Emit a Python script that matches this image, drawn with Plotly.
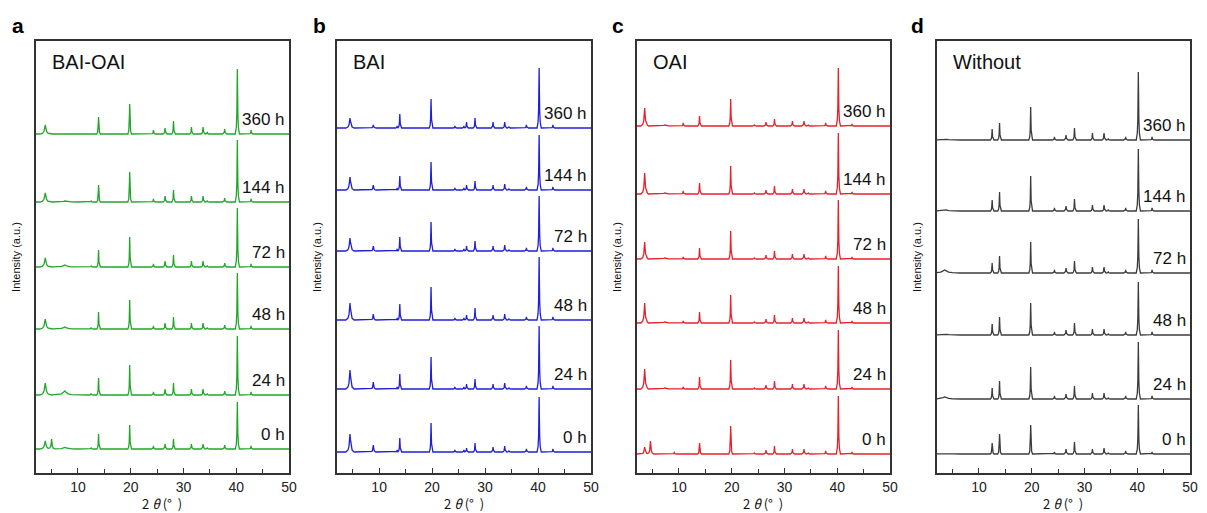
import numpy as np
import plotly.graph_objects as go

# ---------------- data ----------------
TIMES = ["0 h", "24 h", "48 h", "72 h", "144 h", "360 h"]
X_RANGE = [2, 50]

# Panel a: BAI-OAI
A_POS = [3.8, 5.0, 7.5, 12.5, 13.9, 19.8, 24.3, 26.5, 28.1, 31.5, 33.7, 34.5, 37.8, 40.2, 42.8]
A_HW = [1.0, 0.6, 2.5, 0.35, 0.35, 0.35, 0.35, 0.4, 0.35, 0.35, 0.4, 0.35, 0.4, 0.4, 0.35]
A_H = [
    [8, 10, 1.5, 1.5, 15, 24, 3, 5, 10, 5, 5, 1.5, 4, 47, 3],
    [12, 0, 4, 1.5, 17, 30, 3, 6, 12, 6, 6, 1.5, 4, 59, 3],
    [10, 0, 2, 1.5, 17, 29, 3, 6, 12, 6, 6, 1.5, 4, 56, 3],
    [9, 0, 2, 1, 17, 30, 3, 6, 12, 6, 6, 1.5, 4, 59, 3],
    [9, 0, 1, 1, 17, 30, 3, 6, 12, 6, 6, 1.5, 4, 62, 3],
    [9, 0, 0.5, 0, 17, 30, 4, 6, 13, 7, 7, 2, 5, 65, 4],
]
A_OFFSET = [24, 78, 144, 206, 271, 339]

# Panel b: BAI
B_POS = [4.5, 8.9, 13.4, 13.9, 19.8, 24.3, 26.0, 26.5, 28.1, 31.5, 33.7, 34.5, 37.8, 40.2, 42.8]
B_HW = [0.8, 0.5, 0.3, 0.35, 0.35, 0.35, 0.3, 0.35, 0.35, 0.35, 0.4, 0.35, 0.4, 0.4, 0.35]
B_H = [
    [18, 7, 2, 14, 29, 2, 2, 4, 9, 5, 6, 1.5, 3, 55, 3],
    [19, 7, 2, 15, 32, 2, 2, 5, 10, 5, 6, 1.5, 3, 63, 3],
    [17, 6, 2, 16, 33, 2, 2, 5, 12, 5, 6, 1.5, 3, 63, 3],
    [13, 5, 2, 14, 29, 2, 2, 5, 10, 5, 6, 1.5, 3, 55, 3],
    [13, 5, 2, 14, 28, 2, 2, 5, 9, 5, 6, 1.5, 3, 55, 3],
    [10, 3, 2, 14, 29, 2, 2, 6, 10, 6, 6, 1, 3, 60, 3],
]
B_OFFSET = [21, 84, 153, 222, 283, 345]

# Panel c: OAI
C_POS = [3.5, 4.6, 7.3, 9.1, 10.8, 13.9, 19.8, 24.3, 26.5, 28.1, 31.5, 33.7, 34.5, 37.8, 40.2, 42.8]
C_HW = [0.7, 0.6, 1.5, 0.5, 0.4, 0.35, 0.35, 0.35, 0.4, 0.35, 0.35, 0.4, 0.35, 0.4, 0.4, 0.35]
C_H = [
    [7, 13, 0.5, 1.5, 0, 11, 28, 1.5, 4, 8, 5, 5, 1, 3, 58, 2],
    [20, 0, 1, 0, 2, 12, 29, 1.5, 4, 8, 5, 5, 1, 3, 59, 2],
    [20, 0, 1, 0, 2, 11, 28, 1.5, 4, 8, 5, 5, 1, 3, 57, 2],
    [17, 0, 1, 0, 2, 11, 28, 1.5, 4, 8, 5, 5, 1, 3, 59, 2],
    [21, 0, 1, 0, 3, 11, 28, 1.5, 4, 8, 5, 5, 1, 3, 61, 2],
    [18, 0, 1, 0, 3, 10, 27, 1.5, 4, 7, 5, 5, 1, 3, 58, 2],
]
C_OFFSET = [19, 84, 150, 214, 279, 347]

# Panel d: Without
D_POS = [3.5, 12.5, 13.9, 19.8, 24.3, 26.5, 28.1, 31.5, 33.7, 34.5, 37.8, 40.2, 42.8]
D_HW = [3.0, 0.35, 0.35, 0.35, 0.35, 0.4, 0.35, 0.35, 0.4, 0.35, 0.4, 0.4, 0.35]
D_H = [
    [0.5, 11, 20, 29, 2, 5, 12, 5, 6, 1.5, 3, 49, 2],
    [2, 11, 18, 32, 3, 5, 13, 6, 6, 1.5, 3, 57, 3],
    [1, 11, 18, 32, 3, 5, 12, 6, 6, 1.5, 3, 53, 3],
    [3, 10, 17, 31, 3, 5, 12, 6, 6, 1.5, 3, 54, 3],
    [1.5, 11, 19, 35, 3, 5, 12, 6, 6, 1.5, 3, 62, 3],
    [1, 11, 17, 33, 3, 5, 12, 7, 7, 1.5, 3, 68, 3],
]
D_OFFSET = [19, 74, 138, 200, 262, 333]

# peak outline: relative offsets (in half-widths) and relative heights
SHAPE_DX = np.array([-1.0, -0.5, -0.25, -0.1, 0.0, 0.1, 0.25, 0.5, 1.0])
SHAPE_FR = np.array([0.0, 0.1, 0.3, 0.7, 1.0, 0.7, 0.3, 0.1, 0.0])


def pattern(pos, hw, heights):
    xs = [X_RANGE[0], X_RANGE[1]]
    for c, w in zip(pos, hw):
        xs.extend(c + SHAPE_DX * w)
    xs = np.unique(np.clip(np.array(xs), X_RANGE[0], X_RANGE[1]))
    ys = np.zeros_like(xs)
    for c, w, h in zip(pos, hw, heights):
        if h > 0:
            ys += h * np.interp(xs, c + SHAPE_DX * w, SHAPE_FR, left=0, right=0)
    return xs, ys


# ---------------- layout ----------------
W, H = 1207, 513
FONT = "Arial, Liberation Sans, sans-serif"
PANELS = [
    dict(letter="a", title="BAI-OAI", pos=A_POS, hw=A_HW, h=A_H, off=A_OFFSET,
         color="#23A52B", l=36, r=291, lx=18),
    dict(letter="b", title="BAI", pos=B_POS, hw=B_HW, h=B_H, off=B_OFFSET,
         color="#1E1EDC", l=339, r=595, lx=322),
    dict(letter="c", title="OAI", pos=C_POS, hw=C_HW, h=C_H, off=C_OFFSET,
         color="#E8202A", l=641, r=896, lx=622),
    dict(letter="d", title="Without", pos=D_POS, hw=D_HW, h=D_H, off=D_OFFSET,
         color="#3C3C3C", l=943, r=1198, lx=924),
]
TOP, BOTTOM = 41, 473
Y_RANGE = [0, BOTTOM - TOP]
NB = "\u00a0"
X_TITLE = "2" + NB + "<i>θ</i>" + NB + "(°" + NB + NB + ")"

fig = go.Figure()
annotations = []
layout_axes = {}

for i, p in enumerate(PANELS):
    n = "" if i == 0 else str(i + 1)
    xa, ya = "x" + n, "y" + n
    for t, heights, off in zip(TIMES, p["h"], p["off"]):
        xs, ys = pattern(p["pos"], p["hw"], heights)
        fig.add_trace(go.Scatter(x=xs, y=ys + off, mode="lines",
                                 line=dict(color=p["color"], width=1.3),
                                 xaxis=xa, yaxis=ya, showlegend=False,
                                 hoverinfo="skip"))
        annotations.append(dict(x=49.7, y=off + 15, xref=xa, yref=ya, text=t,
                                showarrow=False, xanchor="right", yanchor="middle",
                                font=dict(size=17, color="#111", family=FONT)))
    layout_axes["xaxis" + n] = dict(
        domain=[p["l"] / W, p["r"] / W], range=X_RANGE, anchor=ya,
        showline=True, mirror=True, linecolor="#333", linewidth=1.5,
        ticks="inside", ticklen=5, tickwidth=1, tickcolor="#333",
        tick0=0, dtick=10,
        minor=dict(ticks="inside", ticklen=4, dtick=5, tick0=0, tickcolor="#333"),
        showgrid=False, zeroline=False,
        tickfont=dict(size=14, color="#222", family=FONT))
    layout_axes["yaxis" + n] = dict(
        domain=[(H - BOTTOM) / H, (H - TOP) / H], range=Y_RANGE, anchor=xa,
        showline=True, mirror=True, linecolor="#333", linewidth=1.5,
        showticklabels=False, ticks="", showgrid=False, zeroline=False)
    # panel letter
    annotations.append(dict(x=p["lx"] / W, y=1 - 25 / H, xref="paper", yref="paper",
                            text="<b>" + p["letter"] + "</b>", showarrow=False,
                            xanchor="center", yanchor="middle",
                            font=dict(size=21, color="#000", family=FONT)))
    # panel title
    annotations.append(dict(x=(p["l"] + 14) / W, y=1 - 62 / H, xref="paper", yref="paper",
                            text=p["title"], showarrow=False,
                            xanchor="left", yanchor="middle",
                            font=dict(size=20, color="#111", family=FONT)))
    # y title
    annotations.append(dict(x=(p["l"] - 20) / W, y=1 - ((TOP + BOTTOM) / 2) / H,
                            xref="paper", yref="paper", text="Intensity (a.u.)",
                            textangle=-90, showarrow=False,
                            xanchor="center", yanchor="middle",
                            font=dict(size=11, color="#111", family=FONT)))
    # x title
    annotations.append(dict(x=((p["l"] + p["r"]) / 2) / W, y=1 - 503 / H,
                            xref="paper", yref="paper", text=X_TITLE,
                            showarrow=False, xanchor="center", yanchor="middle",
                            font=dict(size=13, color="#111",
                                      family="Noto Sans CJK JP, sans-serif")))

fig.update_layout(width=W, height=H, margin=dict(l=0, r=0, t=0, b=0),
                  paper_bgcolor="white", plot_bgcolor="white",
                  annotations=annotations, **layout_axes)

fig.write_html("out.html")
